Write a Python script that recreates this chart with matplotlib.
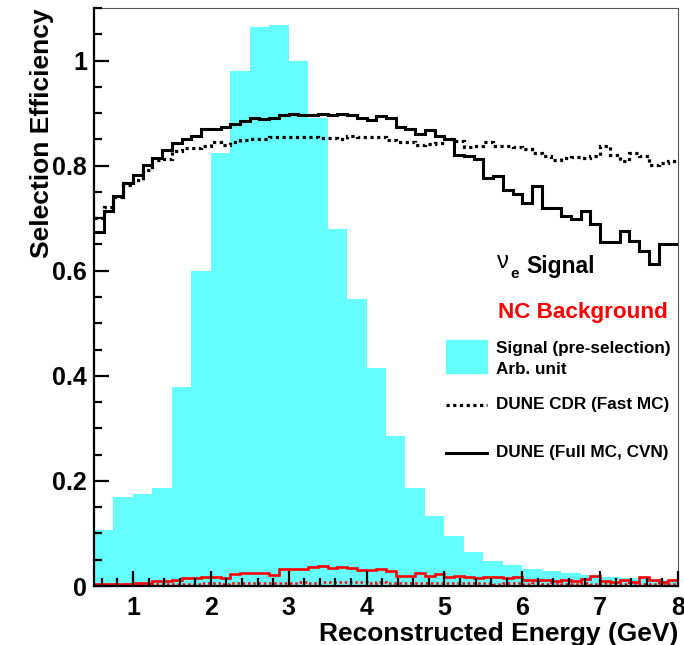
import matplotlib
matplotlib.use("Agg")

import matplotlib.pyplot as plt
from matplotlib.ticker import MultipleLocator, FuncFormatter
from matplotlib.patches import Rectangle
import numpy as np

# binning (GeV)
signal_edges = np.arange(0.5, 8.001, 0.25)
eff_edges = np.arange(0.5, 8.001, 0.125)

# nu_e signal energy spectrum before selection, arbitrary units
signal_presel = [0.107, 0.170, 0.175, 0.187, 0.378, 0.600, 0.825, 0.980,
                 1.063, 1.067, 1.000, 0.890, 0.680, 0.546, 0.415, 0.285,
                 0.187, 0.133, 0.096, 0.064, 0.047, 0.040, 0.033, 0.028,
                 0.024, 0.021, 0.018, 0.015, 0.013, 0.011]

# nu_e signal efficiency, DUNE full MC with CVN
sig_cvn = [0.673, 0.713, 0.743, 0.767, 0.783, 0.802, 0.815, 0.829, 0.844, 0.851,
           0.857, 0.869, 0.869, 0.873, 0.880, 0.884, 0.890, 0.888, 0.891, 0.897,
           0.899, 0.897, 0.896, 0.899, 0.896, 0.898, 0.897, 0.891, 0.886, 0.895,
           0.890, 0.873, 0.870, 0.861, 0.867, 0.856, 0.851, 0.821, 0.818, 0.813,
           0.777, 0.781, 0.754, 0.746, 0.729, 0.761, 0.719, 0.719, 0.705, 0.698,
           0.713, 0.688, 0.654, 0.654, 0.675, 0.656, 0.638, 0.613, 0.651, 0.651]

# nu_e signal efficiency, DUNE CDR fast MC
sig_cdr = [0.700, 0.721, 0.740, 0.764, 0.773, 0.792, 0.811, 0.813, 0.827, 0.833,
           0.833, 0.837, 0.845, 0.840, 0.845, 0.848, 0.850, 0.851, 0.854, 0.854,
           0.854, 0.854, 0.855, 0.852, 0.853, 0.850, 0.857, 0.854, 0.854, 0.854,
           0.848, 0.845, 0.845, 0.840, 0.841, 0.843, 0.850, 0.846, 0.836, 0.837,
           0.845, 0.838, 0.837, 0.836, 0.832, 0.824, 0.818, 0.811, 0.814, 0.816,
           0.814, 0.818, 0.838, 0.821, 0.808, 0.824, 0.818, 0.802, 0.805, 0.808]

# NC background efficiency, full MC with CVN
nc_cvn = [0.003, 0.003, 0.004, 0.004, 0.005, 0.005, 0.009, 0.010, 0.012, 0.015,
          0.016, 0.017, 0.017, 0.016, 0.022, 0.024, 0.024, 0.024, 0.021, 0.032,
          0.033, 0.033, 0.037, 0.038, 0.035, 0.037, 0.035, 0.030, 0.030, 0.032,
          0.029, 0.019, 0.019, 0.025, 0.019, 0.022, 0.018, 0.019, 0.018, 0.016,
          0.017, 0.017, 0.016, 0.017, 0.012, 0.012, 0.012, 0.010, 0.012, 0.010,
          0.013, 0.019, 0.010, 0.008, 0.011, 0.008, 0.017, 0.011, 0.008, 0.012]

# NC background efficiency, CDR fast MC
nc_cdr = [0.002, 0.002, 0.002, 0.003, 0.003, 0.003, 0.003, 0.004, 0.004, 0.004,
          0.004, 0.005, 0.005, 0.004, 0.005, 0.005, 0.006, 0.005, 0.006, 0.006,
          0.006, 0.007, 0.006, 0.007, 0.008, 0.007, 0.008, 0.007, 0.006, 0.007,
          0.006, 0.006, 0.005, 0.006, 0.005, 0.006, 0.005, 0.005, 0.006, 0.005,
          0.005, 0.004, 0.005, 0.005, 0.004, 0.005, 0.004, 0.005, 0.004, 0.004,
          0.005, 0.004, 0.006, 0.004, 0.004, 0.005, 0.004, 0.004, 0.005, 0.004]

CYAN = "#66ffff"
RED = "#ff0000"

plt.rcParams['font.family'] = ['Liberation Sans', 'DejaVu Sans']
plt.rcParams['font.weight'] = 'bold'

fig = plt.figure(figsize=(6.84, 6.45), dpi=100)
ax = fig.add_axes([94 / 684, 59 / 645, 584 / 684, 578 / 645])

dotted = (0, (1, 1.1))

ax.stairs(signal_presel, signal_edges, fill=True, color=CYAN, zorder=1)
ax.stairs(nc_cdr, eff_edges, color=RED, lw=1.8, linestyle=dotted, baseline=None, zorder=2)
ax.stairs(nc_cvn, eff_edges, color=RED, lw=1.9, baseline=None, zorder=3)
ax.stairs(sig_cdr, eff_edges, color="black", lw=2.3, linestyle=dotted, baseline=None, zorder=4)
ax.stairs(sig_cvn, eff_edges, color="black", lw=2.2, baseline=None, zorder=5)

ax.set_xlim(0.5, 8.0)
ax.set_ylim(0, 1.1)

ax.xaxis.set_major_locator(MultipleLocator(1))
ax.xaxis.set_minor_locator(MultipleLocator(0.2))
ax.yaxis.set_major_locator(MultipleLocator(0.2))
ax.yaxis.set_minor_locator(MultipleLocator(0.05))
ax.yaxis.set_major_formatter(FuncFormatter(lambda v, p: "{:g}".format(round(v, 2))))

ax.tick_params(which="both", direction="in", top=False, right=False, width=1.6,
               labelsize=18)
ax.tick_params(which="major", length=11)
ax.tick_params(which="minor", length=6)
ax.tick_params(axis="x", pad=7)
ax.tick_params(axis="y", pad=5)

for s in ["left", "bottom"]:
    ax.spines[s].set_linewidth(1.6)
    ax.spines[s].set_zorder(8)
for s in ["top", "right"]:
    ax.spines[s].set_linewidth(0.8)
    ax.spines[s].set_color("#555555")
ax.xaxis.set_zorder(8)
ax.yaxis.set_zorder(8)

ax.set_xlabel("Reconstructed Energy (GeV)", fontsize=19, fontweight="bold", loc="right",
              labelpad=2)
ax.set_ylabel("Selection Efficiency", fontsize=19, fontweight="bold", loc="top",
              labelpad=-1)

# legend, drawn by hand to keep the ROOT layout
def fx(px):
    return (px - 94) / 584.0

def fy(py):
    return (586 - py) / 578.0

ax.text(fx(497), fy(268), "\u03bd", fontsize=17, fontweight="normal",
        transform=ax.transAxes, va="baseline", ha="left")
ax.text(fx(510), fy(278), "e", fontsize=11, transform=ax.transAxes,
        va="baseline", ha="left")
ax.text(fx(526), fy(273), "Signal", fontsize=16.5, transform=ax.transAxes,
        va="baseline", ha="left")
ax.text(fx(498), fy(318), "NC Background", fontsize=16.2, color=RED,
        transform=ax.transAxes, va="baseline", ha="left")

ax.add_patch(Rectangle((fx(446), fy(373)), fx(487) - fx(446), fy(340) - fy(373),
                       transform=ax.transAxes, color=CYAN, zorder=6))
ax.text(fx(496), fy(348), "Signal (pre-selection)", fontsize=12.3,
        transform=ax.transAxes, va="center", ha="left")
ax.text(fx(496), fy(370), "Arb. unit", fontsize=12.3,
        transform=ax.transAxes, va="center", ha="left")

ax.plot([fx(446), fx(487)], [fy(405), fy(405)], color="black", lw=2.3,
        linestyle=dotted, transform=ax.transAxes)
ax.text(fx(496), fy(405), "DUNE CDR (Fast MC)", fontsize=12.3,
        transform=ax.transAxes, va="center", ha="left")

ax.plot([fx(446), fx(487)], [fy(453), fy(453)], color="black", lw=2.2,
        transform=ax.transAxes)
ax.text(fx(496), fy(452), "DUNE (Full MC, CVN)", fontsize=12.3,
        transform=ax.transAxes, va="center", ha="left")

fig.savefig("out.png", dpi=100)
